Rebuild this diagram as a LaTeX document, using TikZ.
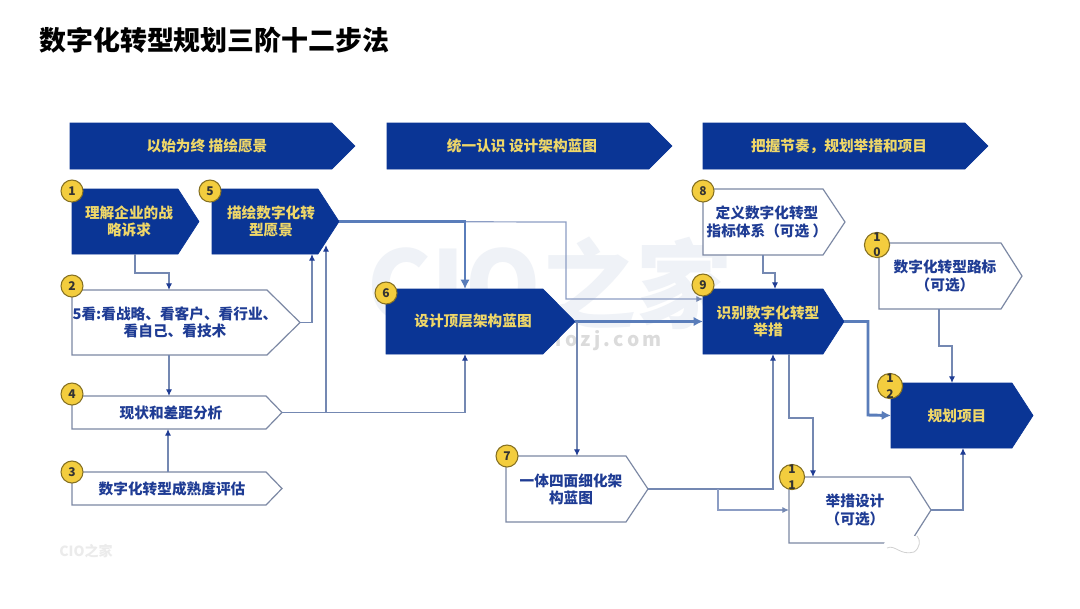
\documentclass[tikz,border=0pt]{standalone}
\usepackage{fontspec}
\setmainfont{Noto Sans CJK SC}
\usetikzlibrary{arrows.meta}
\definecolor{navy}{HTML}{0A3595}
\definecolor{gold}{HTML}{EFD768}
\definecolor{ink}{HTML}{1F3C94}
\definecolor{edge}{HTML}{7C88A4}
\definecolor{wire}{HTML}{7488B2}
\definecolor{wirelight}{HTML}{8C9DC4}
\definecolor{wirebold}{HTML}{5A7DBA}
\definecolor{badgey}{HTML}{F3CD3E}
\definecolor{wm}{HTML}{EFF2F7}
\tikzset{
  x=0.75pt,y=-0.75pt,
  darkp/.style={fill=navy,draw=navy,line width=0.5pt},
  lightp/.style={fill=white,draw=edge,line width=0.9pt},
  darktxt/.style={text=gold,font=\fontsize{11}{12.9}\selectfont\bfseries,align=center,inner sep=0pt},
  lighttxt/.style={text=ink,font=\fontsize{11}{12.9}\selectfont\bfseries,align=center,inner sep=0pt},
  anchorbox/.style={inner sep=0pt,outer sep=0pt,draw=none},
  badge/.style={circle,fill=badgey,draw=black!45!badgey,line width=0.8pt,minimum size=16.5pt,inner sep=0pt,align=center,text=black!80,font=\fontsize{9}{11.5}\selectfont\bfseries},
  conn/.style={draw=wire,line width=0.9pt,-{Latex[length=5pt,width=4.6pt,color=ink]}},
  lightconn/.style={draw=wirelight,line width=0.9pt,-{Latex[length=5pt,width=4.6pt,color=wire]}},
  midconn/.style={draw=wirebold,line width=1.7pt,-{Latex[length=7pt,width=7pt]}},
  thickconn/.style={draw=wirebold,line width=2.2pt,-{Latex[length=7pt,width=7pt]}},
}
% name, x1, y1, x2, y2, depth, polygon style, text style, text x, text
\newcommand{\penta}[9]{%
  \pgfmathsetmacro{\pw}{(#4-#2)*0.75}%
  \pgfmathsetmacro{\ph}{(#5-#3)*0.75}%
  \pgfmathsetmacro{\pcx}{(#2+#4)/2}%
  \pgfmathsetmacro{\pcy}{(#3+#5)/2}%
  \pgfmathsetmacro{\psx}{#4-#6}%
  \path[#7] (#2,#3) -- (\psx,#3) -- (#4,\pcy) -- (\psx,#5) -- (#2,#5) -- cycle;
  \node[anchorbox,minimum width=\pw pt,minimum height=\ph pt] (#1) at (\pcx,\pcy) {};
  \node[#8] (#1t) at (#9,\pcy)
}
\begin{document}
\begin{tikzpicture}
\useasboundingbox (0,0) rectangle (1080,608);
\fill[white] (0,0) rectangle (1080,608);
% watermarks
\node[text=wm,font=\fontsize{72}{74}\selectfont\bfseries,anchor=center,inner sep=0pt] (wm1) at (550,283) {CIO之家};
\node[text=black!14,font=\fontsize{14.5}{16}\selectfont\bfseries,anchor=east,inner sep=0pt] (wm2) at (662,341) {c\,i\,o\,z\,j\,.\,c\,o\,m};
\node[text=black!8,font=\fontsize{10.5}{12}\selectfont\bfseries,inner sep=0pt] (wm3) at (86,551) {CIO之家};
% title
\node[anchor=west,inner sep=0pt,text=black,font=\fontsize{20.2}{24}\selectfont\bfseries] (title) at (39,40) {数字化转型规划三阶十二步法};
% headers
\penta{h1}{70}{123}{355}{169}{23}{darkp}{darktxt}{207}{以始为终 描绘愿景};
\penta{h2}{387}{123}{672}{169}{23}{darkp}{darktxt}{522}{统一认识 设计架构蓝图};
\penta{h3}{703}{123}{988}{169}{23}{darkp}{darktxt}{839}{把握节奏，规划举措和项目};
% boxes
\penta{n1}{72}{189}{199}{254}{21}{darkp}{darktxt}{129}{理解企业的战\\略诉求};
\penta{n5}{212}{189}{339}{254}{21}{darkp}{darktxt}{271}{描绘数字化转\\型愿景};
\penta{n2}{72}{290}{300}{355}{33}{lightp}{lighttxt}{175}{5看:看战略、看客户、看行业、\\看自己、看技术};
\penta{n4}{72}{396}{282}{429}{16}{lightp}{lighttxt}{171}{现状和差距分析};
\penta{n3}{72}{472}{282}{505}{16}{lightp}{lighttxt}{172}{数字化转型成熟度评估};
\penta{n6}{386}{289}{575}{354}{32}{darkp}{darktxt}{473}{设计顶层架构蓝图};
\penta{n7}{506}{456}{648}{522}{22}{lightp}{lighttxt}{571}{一体四面细化架\\构蓝图};
\penta{n8}{703}{189}{845}{255}{22}{lightp}{lighttxt}{767}{定义数字化转型\\指标体系（可选 ）};
\penta{n9}{703}{289}{844}{354}{21}{darkp}{darktxt}{768}{识别数字化转型\\举措};
\penta{n10}{879}{243}{1022}{309}{21}{lightp}{lighttxt}{945}{数字化转型路标\\（可选）};
\penta{n11}{789}{477}{931}{543}{21}{lightp}{lighttxt}{855}{举措设计\\（可选）};
\penta{n12}{891}{383}{1033}{448}{21}{darkp}{darktxt}{957}{规划项目};
% connectors
\draw[conn] (135,0 |- n1.south) -- (135,273) -| (169,0 |- n2.north);
\draw[conn] (n2.east) -| (312,0 |- n5.south);
\coordinate (n5in) at (326,245);
\draw[conn] (n4.east) -| (n5in);
\draw[conn] (n4.east) -| (465,0 |- n6.south);
\draw[conn] (169,0 |- n2.south) -- (169,0 |- n4.north);
\draw[conn] (168,0 |- n3.north) -- (168,0 |- n4.south);
\draw[lightconn] (n5.east) -- (566,222) |- (n9.west |- 0,299);
\draw[thickconn] (n5.east) -| (465,0 |- n6.north);
\draw[midconn] (n6.east) -- (n9.west);
\draw[conn] (577,322) -- (577,0 |- n7.north);
\draw[conn] (763,0 |- n8.south) -- (763,273) -| (775,0 |- n9.north);
\draw[conn] (939,0 |- n10.south) -- (939,346) -| (952,0 |- n12.north);
\draw[thickconn] (n9.east) -| (868,415) -- (n12.west);
\draw[conn] (789,0 |- n9.south) -- (789,418) -| (813,0 |- n11.north);
\draw[conn] (n7.east) -| (773,0 |- n9.south);
\draw[lightconn] (718,489) |- (n11.west);
\draw[conn] (n11.east) -| (963,0 |- n12.south);
% WeChat mark
\fill[white] (903,544) ellipse [x radius=19,y radius=10];
\draw[black!18,line width=0.6pt] (887,548) .. controls (895,544) and (900,556) .. (914,552) .. controls (920,548) and (921,540) .. (917,536);
% badges
\node[badge] (b1) at (72,191) {1};
\node[badge] (b5) at (210,191) {5};
\node[badge] (b2) at (72,286) {2};
\node[badge] (b4) at (72,394) {4};
\node[badge] (b3) at (72,472) {3};
\node[badge] (b6) at (386,293) {6};
\node[badge] (b7) at (507,456) {7};
\node[badge] (b8) at (703,191) {8};
\node[badge] (b9) at (703,285) {9};
\node[badge] (b10) at (877,245) {1\\0};
\node[badge] (b11) at (792,477) {1\\1};
\node[badge] (b12) at (890,386) {1\\2};
\end{tikzpicture}
\end{document}
